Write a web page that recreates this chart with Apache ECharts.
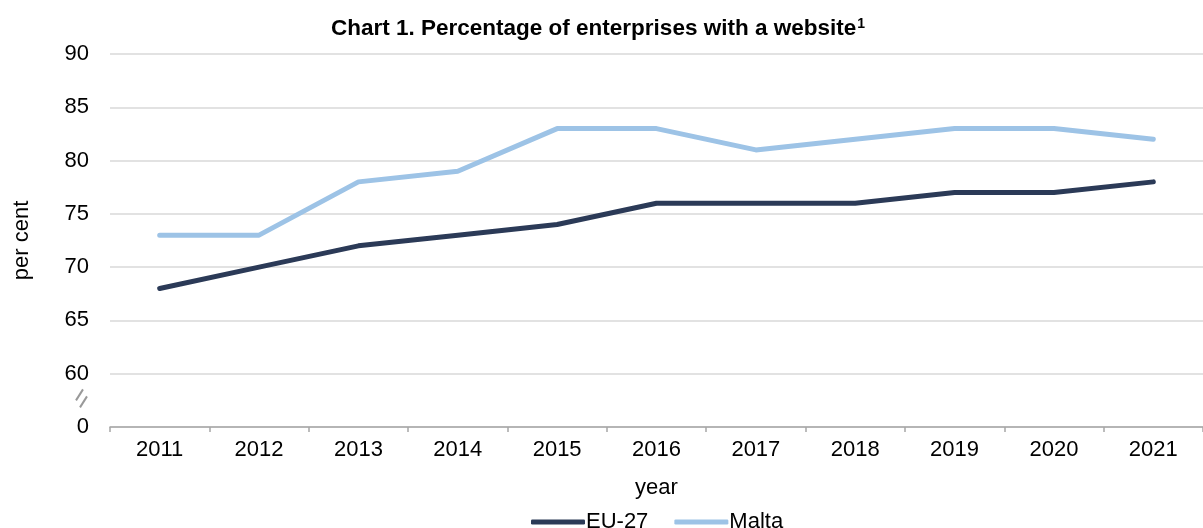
<!DOCTYPE html>
<html>
<head>
<meta charset="utf-8">
<script src="https://cdn.jsdelivr.net/npm/echarts@6/dist/echarts.min.js"></script>
<style>html,body{margin:0;padding:0;background:#fff;}#c{width:1203px;height:528px;}</style>
</head>
<body>
<div id="c"></div>
<script>
const years = ['2011','2012','2013','2014','2015','2016','2017','2018','2019','2020','2021'];
const eu27 = [68,70,72,73,74,76,76,76,77,77,78];
const malta = [73,73,78,79,83,83,81,82,83,83,82];
const yTicks = [55,60,65,70,75,80,85,90];
const yTickLabels = ['0','60','65','70','75','80','85','90'];

const FONT = 'Liberation Sans, Arial, sans-serif';
const chart = echarts.init(document.getElementById('c'), null, {renderer:'canvas'});
const option = {
  animation:false,
  backgroundColor:'#fff',
  title:{
    text:'{t|Chart 1. Percentage of enterprises with a website}{s|1}',
    left:593, top:12, textAlign:'center',
    textStyle:{rich:{
      t:{fontFamily:FONT,fontWeight:'bold',fontSize:22.5,color:'#000'},
      s:{fontFamily:FONT,fontWeight:'bold',fontSize:14,color:'#000',verticalAlign:'top',padding:[0,0,10,1]}
    }}
  },
  legend:{
    left:526, top:506,
    itemWidth:54, itemHeight:5, itemGap:26,
    icon:'roundRect',
    textStyle:{fontFamily:FONT,fontSize:22,color:'#000',padding:[0,0,0,-4]},
    data:['EU-27','Malta']
  },
  grid:{left:110, top:54, width:1102, height:373, containLabel:false},
  xAxis:{
    type:'category', data:years, boundaryGap:true,
    name:'year', nameLocation:'middle', nameGap:50,
    nameTextStyle:{fontFamily:FONT,fontSize:22,color:'#000'},
    axisLine:{lineStyle:{color:'#a6a6a6',width:1.5}},
    axisTick:{show:true,length:5,lineStyle:{color:'#a6a6a6',width:1.5}},
    axisLabel:{fontFamily:FONT,fontSize:22,color:'#000',margin:12}
  },
  yAxis:{
    type:'value', min:55, max:90, interval:5,
    name:'per cent', nameLocation:'middle', nameGap:77, nameRotate:90,
    nameTextStyle:{fontFamily:FONT,fontSize:22,color:'#000'},
    axisLine:{show:false}, axisTick:{show:false},
    splitLine:{lineStyle:{color:'#d9d9d9',width:1.5}},
    axisLabel:{fontFamily:FONT,fontSize:22,color:'#000',margin:21,
      formatter:function(v){const i=yTicks.indexOf(v);return i>=0?yTickLabels[i]:'';}}
  },
  series:[
    {name:'EU-27',type:'line',data:eu27,symbol:'none',color:'#2b3a57',
      lineStyle:{width:5,color:'#2b3a57',cap:'round',join:'round'},z:3},
    {name:'Malta',type:'line',data:malta,symbol:'none',color:'#9dc3e6',
      lineStyle:{width:5,color:'#9dc3e6',cap:'round',join:'round'},z:2}
  ]
};
chart.setOption(option);
const bp = chart.convertToPixel({yAxisIndex:0}, 57.5);
const bs = {stroke:'#999999', lineWidth:2};
chart.setOption({graphic:[
  {type:'line',shape:{x1:76,y1:bp,x2:83,y2:bp-11},style:bs},
  {type:'line',shape:{x1:80,y1:bp+7,x2:87,y2:bp-4},style:bs}
]});
</script>
</body>
</html>
